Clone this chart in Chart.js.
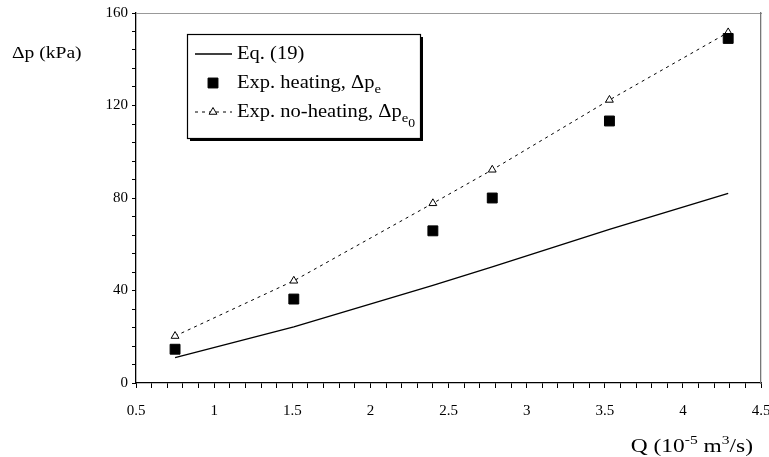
<!DOCTYPE html>
<html><head><meta charset="utf-8">
<script src="https://cdn.jsdelivr.net/npm/chart.js@4/dist/chart.umd.min.js"></script>
<style>html,body{margin:0;padding:0;background:#fff;}</style>
</head><body>
<canvas id="c" width="769" height="457"></canvas>
<script>
const flowQ = [0.75, 1.51, 2.40, 2.78, 3.53, 4.29];
const eq19 = [11.0, 24.3, 42.2, 50.2, 66.4, 82.0];
const expHeating = [14.6, 36.3, 65.8, 80.0, 113.3, 149.0];
const expNoHeating = [20.3, 44.2, 77.7, 92.2, 122.4, 151.6];
const xTickLabels = [0.5, 1, 1.5, 2, 2.5, 3, 3.5, 4, 4.5];
const yTickLabels = [0, 40, 80, 120, 160];
const seriesNames = ['Eq. (19)', 'Exp. heating, \u0394p', 'Exp. no-heating, \u0394p'];
const seriesSubs = ['', 'e', 'e'];
const seriesSubSubs = ['', '', '0'];
const xTitleParts = [['Q (10', 0], ['-5', 1], [' m', 0], ['3', 1], ['/s)', 0]];
const yTitle = '\u0394p (kPa)';

const FONT = '"Liberation Serif", "DejaVu Serif", serif';
const pts = arr => flowQ.map((q, i) => ({x: q, y: arr[i]}));

function stretchedText(ctx, text, x, y, sx) {
  ctx.save();
  ctx.translate(x, y);
  ctx.scale(sx, 1);
  ctx.fillText(text, 0, 0);
  ctx.restore();
  return ctx.measureText(text).width * sx;
}

const overlay = {
  id: 'overlay',
  afterDraw(chart) {
    const ctx = chart.ctx, ca = chart.chartArea;
    ctx.save();
    ctx.fillStyle = '#000';
    ctx.textBaseline = 'middle';
    ctx.textAlign = 'left';
    // y title
    ctx.font = '17px ' + FONT;
    stretchedText(ctx, yTitle, 12, ca.top + 41, 1.15);
    // x title (right aligned near chart area right)
    const TX = 1.3;
    let total = 0;
    xTitleParts.forEach(([t, sup]) => {
      ctx.font = (sup ? '12px ' : '18px ') + FONT;
      total += ctx.measureText(t).width * TX;
    });
    let xx = ca.right - 8 - total;
    const ty = 447;
    xTitleParts.forEach(([t, sup]) => {
      ctx.font = (sup ? '12px ' : '18px ') + FONT;
      xx += stretchedText(ctx, t, xx, sup ? ty - 6 : ty, TX);
    });
    // legend box
    const SX = 1.14;
    const bx = ca.left + 51, by = ca.top + 21, bw = 233, bh = 104;
    ctx.fillStyle = '#000';
    ctx.fillRect(bx + 3, by + 3, bw, bh);
    ctx.fillStyle = '#fff';
    ctx.fillRect(bx, by, bw, bh);
    ctx.strokeStyle = '#000';
    ctx.lineWidth = 1.2;
    ctx.strokeRect(bx + 0.5, by + 0.5, bw, bh);
    const rows = [by + 20, by + 49, by + 78];
    const ds = chart.data.datasets;
    rows.forEach((ry, i) => {
      const d = ds[i];
      if (d.showLine) {
        ctx.beginPath();
        ctx.strokeStyle = '#000';
        ctx.lineWidth = d.borderWidth;
        ctx.setLineDash(d.borderDash || []);
        ctx.moveTo(bx + 8, ry); ctx.lineTo(bx + 45, ry); ctx.stroke();
        ctx.setLineDash([]);
      }
      if (d.pointRadius > 0) {
        ctx.fillStyle = d.pointBackgroundColor;
        ctx.strokeStyle = d.pointBorderColor;
        ctx.lineWidth = d.pointBorderWidth || 1;
        Chart.helpers.drawPoint(ctx, {
          pointStyle: d.pointStyle, radius: d.pointRadius, borderWidth: d.pointBorderWidth || 1
        }, bx + 26, ry);
      }
      ctx.fillStyle = '#000';
      ctx.font = '18px ' + FONT;
      let w = stretchedText(ctx, seriesNames[i], bx + 50, ry, SX);
      if (seriesSubs[i]) {
        ctx.font = '13px ' + FONT;
        const w2 = stretchedText(ctx, seriesSubs[i], bx + 50 + w, ry + 7, SX);
        if (seriesSubSubs[i]) {
          ctx.font = '12px ' + FONT;
          stretchedText(ctx, seriesSubSubs[i], bx + 50 + w + w2, ry + 12, SX);
        }
      }
    });
    ctx.restore();
  }
};

new Chart(document.getElementById('c'), {
  type: 'scatter',
  data: {
    datasets: [
      {label: seriesNames[0], data: pts(eq19), showLine: true, borderColor: '#000', borderWidth: 1.4,
       pointRadius: 0, tension: 0, fill: false},
      {label: seriesNames[1], data: pts(expHeating), showLine: false, pointStyle: 'rect', pointRadius: 7,
       pointBackgroundColor: '#000', pointBorderColor: '#000', pointBorderWidth: 1, borderColor: '#000', backgroundColor: '#000'},
      {label: seriesNames[2], data: pts(expNoHeating), showLine: true, borderColor: '#000', borderWidth: 1,
       borderDash: [3, 4], pointStyle: 'triangle', pointRadius: 4.5, pointBackgroundColor: '#fff',
       pointBorderColor: '#000', pointBorderWidth: 1, backgroundColor: '#fff', tension: 0, fill: false}
    ]
  },
  options: {
    responsive: false,
    animation: false,
    devicePixelRatio: 1,
    layout: {padding: {top: 13, right: 8, left: 0, bottom: 0}},
    plugins: {legend: {display: false}, tooltip: {enabled: false}},
    scales: {
      x: {
        type: 'linear', position: 'bottom', min: 0.5, max: 4.5,
        afterFit: s => { s.height = 74; s.paddingLeft = 0; s.paddingRight = 0; },
        ticks: {
          stepSize: 0.1, autoSkip: false, maxRotation: 0, color: '#000', padding: 14,
          font: {family: FONT, size: 15},
          callback: v => { const t = xTickLabels.find(t => Math.abs(t - v) < 1e-6); return t === undefined ? '' : String(t); }
        },
        grid: {drawOnChartArea: false, tickLength: 5, tickColor: '#000'},
        border: {color: '#000', width: 1.3}
      },
      y: {
        type: 'linear', position: 'left', min: 0, max: 160,
        afterFit: s => { s.width = 136; s.paddingTop = 0; s.paddingBottom = 0; },
        ticks: {
          stepSize: 8, autoSkip: false, color: '#000', padding: 4,
          font: {family: FONT, size: 15},
          callback: v => yTickLabels.includes(v) ? String(v) : ''
        },
        grid: {drawOnChartArea: false, tickLength: 4, tickColor: '#000'},
        border: {color: '#000', width: 1.3}
      },
      x2: {
        type: 'linear', position: 'top', min: 0.5, max: 4.5, display: true,
        afterFit: s => { s.height = 0; s.paddingLeft = 0; s.paddingRight = 0; },
        ticks: {display: false},
        grid: {display: true, drawOnChartArea: false, drawTicks: false},
        border: {color: '#999', width: 1}
      },
      y2: {
        type: 'linear', position: 'right', min: 0, max: 160, display: true,
        afterFit: s => { s.width = 0; s.paddingTop = 0; s.paddingBottom = 0; },
        ticks: {display: false},
        grid: {display: true, drawOnChartArea: false, drawTicks: false},
        border: {color: '#777', width: 1.3}
      }
    }
  },
  plugins: [overlay]
});
</script>
</body></html>
